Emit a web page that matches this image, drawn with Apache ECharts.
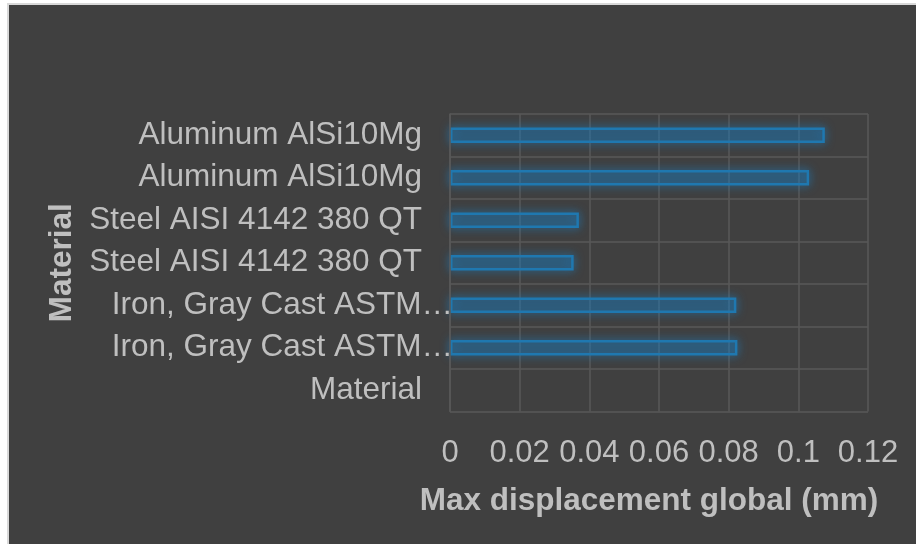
<!DOCTYPE html>
<html>
<head>
<meta charset="utf-8">
<script src="https://cdn.jsdelivr.net/npm/echarts@6/dist/echarts.min.js"></script>
<style>
  html, body { margin: 0; padding: 0; background: #ffffff; }
  #chart { width: 916px; height: 544px; }
</style>
</head>
<body>
<div id="chart"></div>
<script>
// Materials, listed bottom to top as they sit on the category axis
const materials = [
  'Material',
  'Iron, Gray Cast ASTM…',
  'Iron, Gray Cast ASTM…',
  'Steel AISI 4142 380 QT',
  'Steel AISI 4142 380 QT',
  'Aluminum AlSi10Mg',
  'Aluminum AlSi10Mg'
];
// Max displacement global (mm) for each row; the header row has no bar
const displacement = [null, 0.0825, 0.0822, 0.0355, 0.0370, 0.1031, 0.1076];
// Value axis ticks
const xTicks = [0, 0.02, 0.04, 0.06, 0.08, 0.1, 0.12];

const textColor = '#bfbfbf';
const font = "'Liberation Sans', Arial, sans-serif";
const gridColor = '#595959';

const chart = echarts.init(document.getElementById('chart'), null, { renderer: 'canvas' });

chart.setOption({
  backgroundColor: '#ffffff',
  animation: false,
  graphic: [{
    type: 'rect',
    z: -100,
    silent: true,
    shape: { x: 8, y: 4, width: 940, height: 580 },
    style: { fill: '#404040', stroke: '#d9d9d9', lineWidth: 2 }
  }],
  grid: { left: 450, right: 48, top: 114, bottom: 132.5, containLabel: false },
  xAxis: {
    type: 'value',
    min: xTicks[0],
    max: xTicks[xTicks.length - 1],
    interval: xTicks[1] - xTicks[0],
    name: 'Max displacement global (mm)',
    nameLocation: 'middle',
    nameGap: 74,
    nameTextStyle: {
      color: textColor, fontFamily: font, fontSize: 31.5, fontWeight: 'bold',
      padding: [0, 20, 0, 0]
    },
    axisLine: { show: false },
    axisTick: { show: false },
    axisLabel: {
      color: textColor, fontFamily: font, fontSize: 31, margin: 26,
      formatter: v => String(+v.toFixed(2))
    },
    splitLine: { show: true, lineStyle: { color: gridColor, width: 1.5 } }
  },
  yAxis: {
    type: 'category',
    data: materials,
    z: 5,
    name: 'Material',
    nameLocation: 'middle',
    nameGap: 372,
    nameTextStyle: { color: textColor, fontFamily: font, fontSize: 31.5, fontWeight: 'bold' },
    axisLine: { show: true, lineStyle: { color: gridColor, width: 1.5 } },
    axisTick: { show: false },
    axisLabel: {
      color: textColor, fontFamily: font, fontSize: 31.5, margin: -3,
      formatter: v => v.indexOf('…') >= 0 ? v : '{p|' + v + '}',
      rich: {
        p: { color: textColor, fontFamily: font, fontSize: 31.5, padding: [0, 31, 0, 0] }
      }
    },
    splitLine: { show: true, lineStyle: { color: gridColor, width: 1.5 } }
  },
  series: [{
    type: 'bar',
    data: displacement,
    barWidth: 15.5,
    itemStyle: {
      color: 'rgba(20,120,190,0.2)',
      borderColor: '#1f78b0',
      borderWidth: 2.5,
      shadowColor: 'rgba(25,140,220,0.85)',
      shadowBlur: 10
    }
  }]
});
</script>
</body>
</html>
